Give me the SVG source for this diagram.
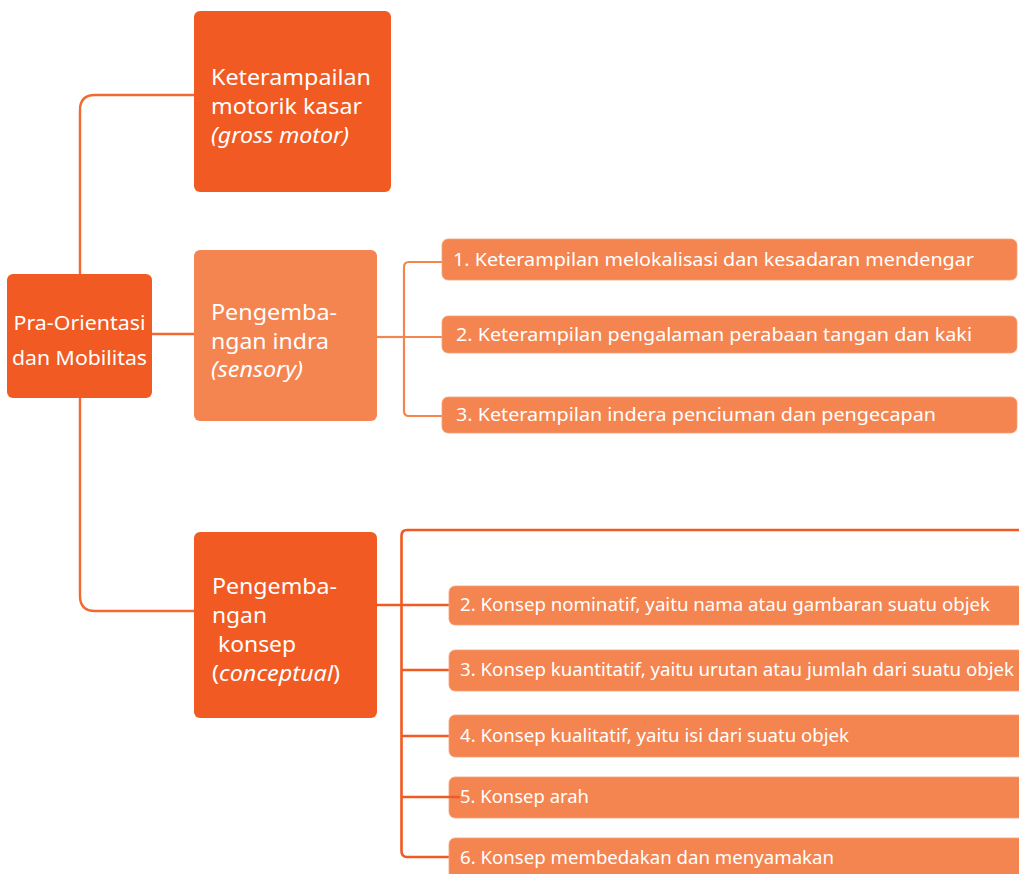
<svg xmlns="http://www.w3.org/2000/svg" width="1019" height="874" viewBox="0 0 1019 874">
<style>
.dark{fill:#F15A22}
.light{fill:#F48450}
.item{fill:#F48450;stroke:#F7A27A;stroke-width:0.8}
.t{font-family:"Noto Sans","Open Sans",sans-serif;fill:#FFFFFF}
.big{font-size:22px}
.root{font-size:20px}
.li{font-size:18px}
.it{font-style:italic}
.c1{fill:none;stroke:#F26A32;stroke-width:2.4}
.c2{fill:none;stroke:#F4854F;stroke-width:2.2}
.c3{fill:none;stroke:#F15A22;stroke-width:2.6}
</style>
<rect width="1019" height="874" fill="#FFFFFF"/>
<g id="connectors">
<path class="c1" d="M80,274 V110 Q80,95 95,95 H194"/>
<path class="c1" d="M80,398 V596 Q80,611 95,611 H194"/>
<path class="c1" d="M152,334 H194"/>
<path class="c2" d="M377,337 H404"/>
<path class="c2" d="M442,262 H409 Q404,262 404,267 V411 Q404,416 409,416 H442"/>
<path class="c2" d="M404,337 H442"/>
<path class="c3" d="M377,605 H449"/>
<path class="c3" d="M1019,530 H407 Q401.5,530 401.5,536 V851 Q401.5,857 407,857 H449"/>
<path class="c3" d="M401.5,670 H449"/>
<path class="c3" d="M401.5,736 H449"/>
</g>
<g id="root">
<rect class="dark" x="7" y="274" width="145" height="124" rx="6"/>
<text class="t root" x="79.5" y="330" text-anchor="middle" textLength="132" lengthAdjust="spacingAndGlyphs">Pra-Orientasi</text>
<text class="t root" x="79.5" y="365" text-anchor="middle" textLength="135" lengthAdjust="spacingAndGlyphs">dan Mobilitas</text>
</g>
<g id="gross">
<rect class="dark" x="194" y="11" width="197" height="181" rx="6"/>
<text class="t big" x="211" y="85" textLength="160" lengthAdjust="spacingAndGlyphs">Keterampailan</text>
<text class="t big" x="211" y="114" textLength="151" lengthAdjust="spacingAndGlyphs">motorik kasar</text>
<text class="t big it" x="211" y="143" textLength="138" lengthAdjust="spacingAndGlyphs">(gross motor)</text>
</g>
<g id="sensory">
<rect class="light" x="194" y="250" width="183" height="171" rx="6"/>
<text class="t big" x="211" y="320" textLength="126" lengthAdjust="spacingAndGlyphs">Pengemba-</text>
<text class="t big" x="211" y="349" textLength="118" lengthAdjust="spacingAndGlyphs">ngan indra</text>
<text class="t big it" x="211" y="377" textLength="92" lengthAdjust="spacingAndGlyphs">(sensory)</text>
</g>
<g id="conceptual">
<rect class="dark" x="194" y="532" width="183" height="186" rx="6"/>
<text class="t big" x="212" y="594" textLength="125" lengthAdjust="spacingAndGlyphs">Pengemba-</text>
<text class="t big" x="212" y="623" textLength="55" lengthAdjust="spacingAndGlyphs">ngan</text>
<text class="t big" x="218" y="652" textLength="78" lengthAdjust="spacingAndGlyphs">konsep</text>
<text class="t big" x="212" y="681" textLength="128" lengthAdjust="spacingAndGlyphs">(<tspan class="it">conceptual</tspan>)</text>
</g>
<g id="s1">
<rect class="item" x="442" y="239" width="575" height="41" rx="6"/>
<text class="t li" x="453" y="266" textLength="521" lengthAdjust="spacingAndGlyphs">1. Keterampilan melokalisasi dan kesadaran mendengar</text>
</g>
<g id="s2">
<rect class="item" x="442" y="316" width="575" height="37" rx="6"/>
<text class="t li" x="456" y="341" textLength="516" lengthAdjust="spacingAndGlyphs">2. Keterampilan pengalaman perabaan tangan dan kaki</text>
</g>
<g id="s3">
<rect class="item" x="442" y="397" width="575" height="36" rx="6"/>
<text class="t li" x="456" y="421" textLength="480" lengthAdjust="spacingAndGlyphs">3. Keterampilan indera penciuman dan pengecapan</text>
</g>
<g id="k2">
<rect class="item" x="449" y="586" width="580" height="39" rx="6"/>
<text class="t li" x="460" y="611" textLength="530" lengthAdjust="spacingAndGlyphs">2. Konsep nominatif, yaitu nama atau gambaran suatu objek</text>
</g>
<g id="k3">
<rect class="item" x="449" y="650" width="580" height="41" rx="6"/>
<text class="t li" x="460" y="676" textLength="554" lengthAdjust="spacingAndGlyphs">3. Konsep kuantitatif, yaitu urutan atau jumlah dari suatu objek</text>
</g>
<g id="k4">
<rect class="item" x="449" y="715" width="580" height="42" rx="6"/>
<text class="t li" x="460" y="742" textLength="389" lengthAdjust="spacingAndGlyphs">4. Konsep kualitatif, yaitu isi dari suatu objek</text>
</g>
<g id="k5">
<rect class="item" x="449" y="777" width="580" height="41" rx="6"/>
<path class="c3" d="M401.5,797 H460"/>
<text class="t li" x="460" y="803" textLength="129" lengthAdjust="spacingAndGlyphs">5. Konsep arah</text>
</g>
<g id="k6">
<rect class="item" x="449" y="838" width="580" height="50" rx="6"/>
<text class="t li" x="460" y="864" textLength="374" lengthAdjust="spacingAndGlyphs">6. Konsep membedakan dan menyamakan</text>
</g>
</svg>
